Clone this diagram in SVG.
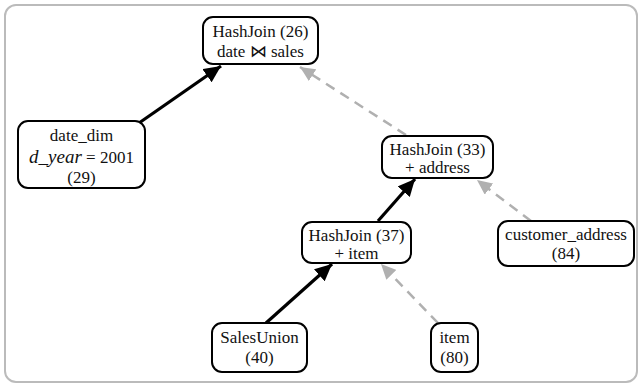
<svg xmlns="http://www.w3.org/2000/svg" width="642" height="387" viewBox="0 0 642 387">
<style>
.frame{fill:#fff;stroke:#bbb;stroke-width:2}
.node rect{fill:#fff;stroke:#000;stroke-width:2}
.node text{font-family:'Liberation Serif','Times New Roman','DejaVu Serif',serif;font-size:17px;text-anchor:middle;fill:#111}
.solid{stroke:#000;stroke-width:3.2;fill:none}
.dash{stroke:#b0b0b0;stroke-width:2.5;stroke-dasharray:10,7;fill:none}
</style>
<defs>
<marker id="ab" markerUnits="userSpaceOnUse" markerWidth="18" markerHeight="16" refX="17" refY="8" orient="auto"><path d="M0,0 L17,8 L0,16 Z" fill="#000"/></marker>
<marker id="ag" markerUnits="userSpaceOnUse" markerWidth="16" markerHeight="14" refX="15" refY="7" orient="auto"><path d="M0,0 L15,7 L0,14 Z" fill="#b0b0b0"/></marker>
</defs>
<rect class="frame" x="5" y="5" width="632" height="377" rx="11"/>
<g id="connectors">
<line class="solid" x1="139" y1="123" x2="221" y2="66" marker-end="url(#ab)"/>
<line class="dash" x1="406" y1="135" x2="300" y2="67" marker-end="url(#ag)"/>
<line class="solid" x1="378" y1="221" x2="415" y2="179" marker-end="url(#ab)"/>
<line class="dash" x1="531" y1="221" x2="477" y2="180" marker-end="url(#ag)"/>
<line class="solid" x1="266" y1="323" x2="332" y2="264" marker-end="url(#ab)"/>
<line class="dash" x1="438" y1="323" x2="381" y2="264" marker-end="url(#ag)"/>
</g>
<g id="n26" class="node"><rect x="203" y="17" width="115" height="47" rx="10"/><text x="260.5" y="37">HashJoin (26)</text><text x="260.5" y="57">date ⋈ sales</text></g>
<g id="n29" class="node"><rect x="18" y="121" width="127" height="67" rx="10"/><text x="81.5" y="141">date_dim</text><text x="81.5" y="163"><tspan font-style="italic" font-size="19">d_year</tspan> = 2001</text><text x="81.5" y="183">(29)</text></g>
<g id="n33" class="node"><rect x="382" y="136" width="111" height="42" rx="10"/><text x="437.5" y="155">HashJoin (33)</text><text x="437.5" y="173">+ address</text></g>
<g id="n37" class="node"><rect x="302" y="222" width="109" height="41" rx="10"/><text x="356.5" y="241">HashJoin (37)</text><text x="356.5" y="259">+ item</text></g>
<g id="n84" class="node"><rect x="498" y="221" width="136" height="45" rx="10"/><text x="566" y="240">customer_address</text><text x="566" y="259">(84)</text></g>
<g id="n40" class="node"><rect x="212" y="323" width="95" height="49" rx="10"/><text x="259.5" y="343">SalesUnion</text><text x="259.5" y="363">(40)</text></g>
<g id="n80" class="node"><rect x="431" y="323" width="47" height="49" rx="10"/><text x="454.5" y="343">item</text><text x="454.5" y="363">(80)</text></g>
</svg>
